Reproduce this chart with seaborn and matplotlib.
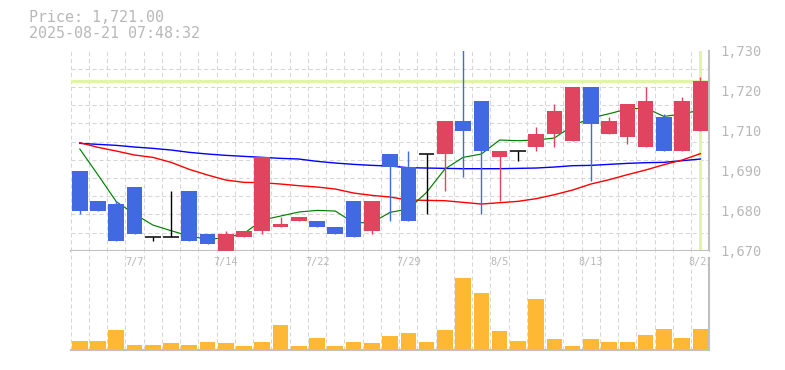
import numpy as np
import pandas as pd
import matplotlib
matplotlib.use("Agg")
import matplotlib.pyplot as plt
import seaborn as sns

# ---------------- data ----------------
dates = ["7/2", "7/3", "7/4", "7/7", "7/8", "7/9", "7/10", "7/11", "7/14", "7/15",
         "7/16", "7/17", "7/18", "7/22", "7/23", "7/24", "7/25", "7/28", "7/29", "7/30",
         "7/31", "8/1", "8/4", "8/5", "8/6", "8/7", "8/8", "8/12", "8/13", "8/14",
         "8/15", "8/18", "8/19", "8/20", "8/21"]
opens  = [1694, 1685, 1684, 1689, 1674, 1674, 1688, 1675, 1670, 1674,
          1676, 1677, 1679, 1679, 1677, 1685, 1676, 1699, 1695, 1699,
          1699, 1709, 1715, 1698, 1700, 1701, 1705, 1703, 1719, 1705,
          1704, 1701, 1710, 1700, 1706]
highs  = [1694, 1685, 1685, 1689, 1674, 1688, 1688, 1675, 1676, 1676,
          1698, 1680, 1680, 1679, 1677, 1685, 1685, 1699, 1700, 1699,
          1709, 1735, 1715, 1700, 1700, 1707, 1714, 1719, 1719, 1710,
          1714, 1719, 1711, 1716, 1722]
lows   = [1681, 1682, 1673, 1675, 1673, 1674, 1673, 1672, 1670, 1674,
          1675, 1677, 1679, 1677, 1675, 1674, 1675, 1679, 1679, 1681,
          1688, 1692, 1681, 1685, 1697, 1700, 1701, 1703, 1691, 1705,
          1702, 1701, 1700, 1700, 1706]
closes = [1682, 1682, 1673, 1675, 1674, 1674, 1673, 1672, 1675, 1676,
          1698, 1678, 1680, 1677, 1675, 1674, 1685, 1695, 1679, 1699,
          1709, 1706, 1700, 1700, 1700, 1705, 1712, 1719, 1708, 1709,
          1714, 1715, 1700, 1715, 1721]
ma_short = [1700.5, 1692.7, 1684.7, 1681.0, 1677.7, 1676.0, 1674.4, 1673.4, 1673.9, 1675.2,
            1679.2, 1680.4, 1681.6, 1682.1, 1681.9, 1678.4, 1678.4, 1681.5, 1682.5, 1687.5,
            1694.5, 1698.0, 1699.0, 1703.2, 1703.0, 1703.2, 1703.8, 1707.5, 1709.8, 1711.1,
            1712.5, 1712.8, 1710.3, 1711.0, 1712.2]
ma_mid = [1702.4, 1701.0, 1699.9, 1698.7, 1698.0, 1696.5, 1694.4, 1692.7, 1691.2, 1690.5,
          1690.4, 1690.0, 1689.5, 1689.1, 1688.5, 1687.3, 1686.6, 1686.1, 1685.2, 1685.1,
          1685.0, 1684.5, 1684.0, 1684.4, 1684.8, 1685.6, 1686.8, 1688.2, 1690.0, 1691.3,
          1692.8, 1694.2, 1695.8, 1697.2, 1699.1]
ma_long = [1702.2, 1701.9, 1701.6, 1701.1, 1700.7, 1700.2, 1699.5, 1699.0, 1698.6, 1698.3,
           1698.0, 1697.7, 1697.5, 1696.8, 1696.3, 1695.9, 1695.6, 1695.4, 1694.9, 1694.8,
           1694.7, 1694.6, 1694.6, 1694.6, 1694.7, 1694.8, 1695.1, 1695.5, 1695.6, 1695.9,
           1696.2, 1696.4, 1696.5, 1697.0, 1697.5]
volume = [8, 8, 19, 4, 4, 6, 4, 7, 6, 3,
          7, 24, 3, 11, 3, 7, 6, 13, 16, 7,
          19, 71, 56, 18, 8, 50, 10, 3, 10, 7,
          7, 14, 20, 11, 20]
xtick_dates = ["7/7", "7/14", "7/22", "7/29", "8/5", "8/13", "8/21"]
ytick_values = [1670, 1682, 1694, 1706, 1718, 1730]
ytick_labels = ["1,670", "1,680", "1,690", "1,710", "1,720", "1,730"]
timestamp = "2025-08-21 07:48:32"

# ---------------- styling ----------------
UP = "#e0445f"
DOWN = "#4169e1"
FLAT = "#000000"
VOLC = "#ffb833"
GRID = "#d6d6d6"
SPINE = "#c0c0c0"
TXT = "#b8b8b8"
HL = "#e0f5a8"
MONO = "DejaVu Sans Mono"

n = len(closes)
idx = np.arange(n)
df = pd.DataFrame({"i": idx, "date": dates, "open": opens, "high": highs,
                   "low": lows, "close": closes, "vol": volume,
                   "ma_s": ma_short, "ma_m": ma_mid, "ma_l": ma_long})

W, H = 785, 370
fig = plt.figure(figsize=(W / 100, H / 100), dpi=100)
L, R = 70.7, 709.5
ax_p = fig.add_axes([L / W, 1 - 250.7 / H, (R - L) / W, 200 / H])
ax_v = fig.add_axes([L / W, 1 - 350 / H, (R - L) / W, 99.3 / H])

dash = (0, (4, 2.7))
for ax in (ax_p, ax_v):
    ax.set_xlim(-0.5, n - 0.5)
    ax.set_xticks([])
    ax.set_xticks(np.arange(-0.5, n, 1), minor=True)
    ax.grid(which="minor", axis="x", color=GRID, lw=0.75, linestyle=dash)
    ax.tick_params(which="both", length=0)
    for s in ("top", "left"):
        ax.spines[s].set_visible(False)
    for s in ("right", "bottom"):
        ax.spines[s].set_color(SPINE)
        ax.spines[s].set_linewidth(1.5)
    ax.set_xlabel("")
    ax.set_ylabel("")
    ax.set_axisbelow(True)

# ---- price panel ----
ax_p.set_ylim(1670, 1730)
ax_p.set_yticks(np.linspace(1670, 1730, 12), minor=True)
ax_p.grid(which="minor", axis="y", color=GRID, lw=0.75, linestyle=dash)
ax_p.yaxis.tick_right()
ax_p.set_yticks(ytick_values)
ax_p.set_yticklabels(ytick_labels, family=MONO, fontsize=9.8, color=TXT)
ax_p.tick_params(axis="y", which="major", pad=7.6)

# current price highlight
ax_p.axhline(closes[-1], color=HL, lw=2.3, zorder=1.5)
ax_p.axvline(idx[-1], color=HL, lw=2.2, zorder=1.5)

# moving averages
sns.lineplot(data=df, x="i", y="ma_l", color="#0000ff", lw=1.0, ax=ax_p, zorder=2)
sns.lineplot(data=df, x="i", y="ma_m", color="#ff0000", lw=1.0, ax=ax_p, zorder=2)
sns.lineplot(data=df, x="i", y="ma_s", color="#008000", lw=0.85, ax=ax_p, zorder=2)

# candles
o = np.array(opens, float)
c = np.array(closes, float)
colors = [UP if cc > oo else (DOWN if cc < oo else FLAT) for oo, cc in zip(o, c)]
bw = 0.86
ax_p.vlines(idx, lows, highs, colors=colors, lw=1.0, zorder=3)
body_mask = o != c
ax_p.bar(idx[body_mask], np.abs(c - o)[body_mask], bottom=np.minimum(o, c)[body_mask],
         width=bw, color=np.array(colors)[body_mask], zorder=4, linewidth=0)
flat = ~body_mask
ax_p.hlines(c[flat], idx[flat] - bw / 2, idx[flat] + bw / 2, colors=FLAT, lw=1.1, zorder=4)
ax_p.set_xlim(-0.5, n - 0.5)
ax_p.set_ylim(1670, 1730)
ax_p.set_xlabel("")
ax_p.set_ylabel("")

# ---- volume panel ----
sns.barplot(data=df, x="i", y="vol", color=VOLC, saturation=1, width=bw, ax=ax_v,
            zorder=3, linewidth=0)
ax_v.set_xlim(-0.5, n - 0.5)
ax_v.set_ylim(-1.5, 97.8)
ax_v.set_yticks([])
ax_v.set_xticks([])
ax_v.set_xticks(np.arange(-0.5, n, 1), minor=True)
ax_v.set_xlabel("")
ax_v.set_ylabel("")
ax_v.spines["right"].set_bounds(-1.5, 90.5)

# date labels (clipped at right edge like the original)
for d in xtick_dates:
    pos = dates.index(d)
    ax_v.text(pos, 0.889, d, transform=ax_v.get_xaxis_transform(), ha="center",
              va="center", family=MONO, fontsize=7.4, color=TXT, clip_on=True)

# header text
fig.text(29 / W, 1 - 18 / H, f"Price: {closes[-1]:,.2f}", family=MONO, fontsize=10.8,
         color=TXT, ha="left", va="center")
fig.text(29 / W, 1 - 33.5 / H, timestamp, family=MONO, fontsize=10.8,
         color=TXT, ha="left", va="center")

fig.savefig("out.png", dpi=100)
